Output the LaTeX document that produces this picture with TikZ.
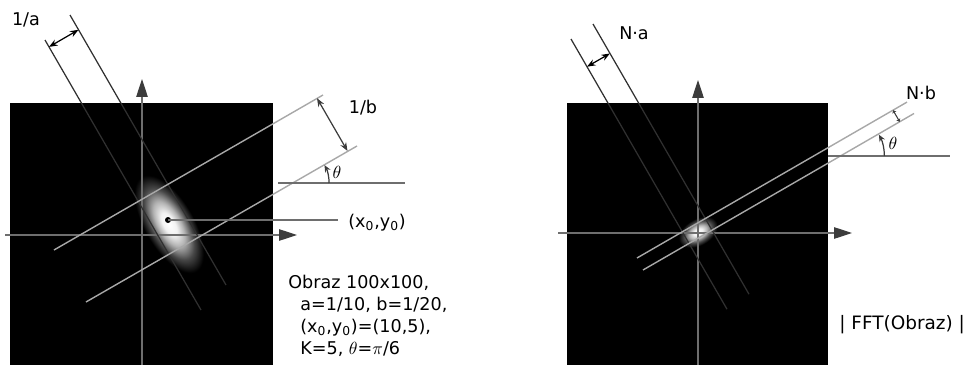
\documentclass[tikz,border=0pt]{standalone}
\usepackage{fontspec}
\setmainfont{DejaVu Sans}
\usepackage{tikz}
\usetikzlibrary{arrows.meta}
\definecolor{axisgray}{HTML}{6E6E6E}
\definecolor{tipgray}{HTML}{3C3C3C}
\definecolor{bandgray}{HTML}{A8A8A8}
\definecolor{darkline}{HTML}{303030}
\pgfdeclareradialshading{blob}{\pgfpoint{0bp}{0bp}}{color(0bp)=(white); color(5bp)=(white!95!black); color(10bp)=(white!70!black); color(16bp)=(white!28!black); color(22bp)=(black); color(50bp)=(black)}
\tikzstyle{lbl} = [inner sep=0pt, font=\fontsize{10}{12.5}\selectfont]

\begin{document}
\begin{tikzpicture}[
    axisline/.style={draw=axisgray, line width=0.6pt, -{Triangle[length=0.36cm, width=0.23cm, color=tipgray]}},
    bandline/.style={draw=bandgray, line width=0.8pt},
    perpline/.style={draw=darkline, line width=0.7pt},
    dimarrow/.style={<->, >={Stealth[length=0.17cm, width=0.13cm]}, line width=0.7pt},
    thetaarc/.style={->, >={Stealth[length=0.14cm, width=0.12cm]}, line width=0.7pt, draw=tipgray},
    refline/.style={draw=axisgray, line width=0.8pt},
    dotnode/.style={circle, fill=black, inner sep=0pt, minimum size=0.12cm},
    x=0.02cm, y=-0.02cm
]
    \useasboundingbox (0,0) rectangle (971,365);

    % Left: image of the gaussian
    \fill[black] (10,103) rectangle (273,365);
    \begin{scope}[transform canvas={shift={(169,224)}, rotate=-60}]
        \shade[shading=blob] (0,0) ellipse [x radius=62, y radius=28];
    \end{scope}

    % Left axes
    \coordinate (yaxL0) at (142,365);
    \coordinate (yaxL1) at (142,79);
    \coordinate (xaxL0) at (5,235);
    \coordinate (xaxL1) at (297,235);
    \draw[axisline] (yaxL0) -- (yaxL1);
    \draw[axisline] (xaxL0) -- (xaxL1);

    % Left: lines across the blob (1/a)
    \coordinate (aL1) at (45,40);
    \coordinate (aL2) at (201,310);
    \coordinate (aL3) at (70,15);
    \coordinate (aL4) at (226,285);
    \draw[perpline] (aL1) -- (aL2);
    \draw[perpline] (aL3) -- (aL4);
    \coordinate (aLd1) at (49,46.9);
    \coordinate (aLd2) at (78.5,29.8);
    \draw[dimarrow, black] (aLd1) -- (aLd2);
    \node[lbl] (labA) at (26,20) {1/a};

    % Left: lines along theta (1/b)
    \coordinate (bL1) at (54,250);
    \coordinate (bL2) at (323,95);
    \coordinate (bL3) at (86,302);
    \coordinate (bL4) at (357,146);
    \draw[bandline] (bL1) -- (bL2);
    \draw[bandline] (bL3) -- (bL4);
    \coordinate (bLd1) at (317,98.2);
    \coordinate (bLd2) at (347.5,151);
    \draw[dimarrow, tipgray] (bLd1) -- (bLd2);
    \node[lbl] (labB) at (363,108) {1/b};

    % Left: angle theta
    \coordinate (thL0) at (278,183);
    \coordinate (thL1) at (405,183);
    \draw[refline] (thL0) -- (thL1);
    \coordinate (arcL) at (329.1,183);
    \draw[thetaarc] (arcL) arc[start angle=0, end angle=-29, radius=37];
    \node[lbl] (thetaL) at (337,172) {$\theta$};

    % Left: centre point
    \node[dotnode] (ctr) at (168,220) {};
    \coordinate (ctrEnd) at (338,220);
    \draw[refline] (ctr.center) -- (ctrEnd);
    \node[lbl, anchor=west] (labXY) at (348,223) {(x\textsubscript{0},y\textsubscript{0})};

    % Parameters
    \node[lbl, align=left, anchor=north west] (params) at (288,275) {Obraz 100x100,\\
        \hspace*{0.24cm}a=1/10, b=1/20,\\
        \hspace*{0.24cm}(x\textsubscript{0},y\textsubscript{0})=(10,5),\\
        \hspace*{0.24cm}K=5, $\theta$=$\pi$/6};

    % Right: spectrum
    \fill[black] (567,103) rectangle (828,365);
    \begin{scope}[transform canvas={shift={(698,232)}, rotate=30}]
        \shade[shading=blob] (0,0) ellipse [x radius=24, y radius=15];
    \end{scope}

    % Right axes
    \coordinate (yaxR0) at (698,365);
    \coordinate (yaxR1) at (698,80);
    \coordinate (xaxR0) at (558,233);
    \coordinate (xaxR1) at (852,233);
    \draw[axisline] (yaxR0) -- (yaxR1);
    \draw[axisline] (xaxR0) -- (xaxR1);

    % Right: N.a
    \coordinate (aR1) at (571,39);
    \coordinate (aR2) at (727,309.2);
    \coordinate (aR3) at (593,24);
    \coordinate (aR4) at (749,294.2);
    \draw[perpline] (aR1) -- (aR2);
    \draw[perpline] (aR3) -- (aR4);
    \coordinate (aRd1) at (587,66.7);
    \coordinate (aRd2) at (609.9,53.5);
    \draw[dimarrow, black] (aRd1) -- (aRd2);
    \node[lbl] (labNA) at (634,33) {N·a};

    % Right: N.b
    \coordinate (bR1) at (637,258);
    \coordinate (bR2) at (907,102.1);
    \coordinate (bR3) at (643,270);
    \coordinate (bR4) at (914,113.5);
    \draw[bandline] (bR1) -- (bR2);
    \draw[bandline] (bR3) -- (bR4);
    \coordinate (bRd1) at (893,110.2);
    \coordinate (bRd2) at (899.7,121.8);
    \draw[<->, >={Stealth[length=0.06cm, width=0.09cm]}, line width=0.6pt, tipgray] (bRd1) -- (bRd2);
    \node[lbl] (labNB) at (921,93) {N·b};

    % Right: angle theta
    \coordinate (thR0) at (828,156);
    \coordinate (thR1) at (950,156);
    \draw[refline] (thR0) -- (thR1);
    \coordinate (arcR) at (884.4,156);
    \draw[thetaarc] (arcR) arc[start angle=0, end angle=-29, radius=44];
    \node[lbl] (thetaR) at (893,143) {$\theta$};

    \node[lbl, anchor=west, font=\fontsize{10.5}{12.5}\selectfont] (labFFT) at (839,325) {| FFT(Obraz) |};

\end{tikzpicture}
\end{document}
